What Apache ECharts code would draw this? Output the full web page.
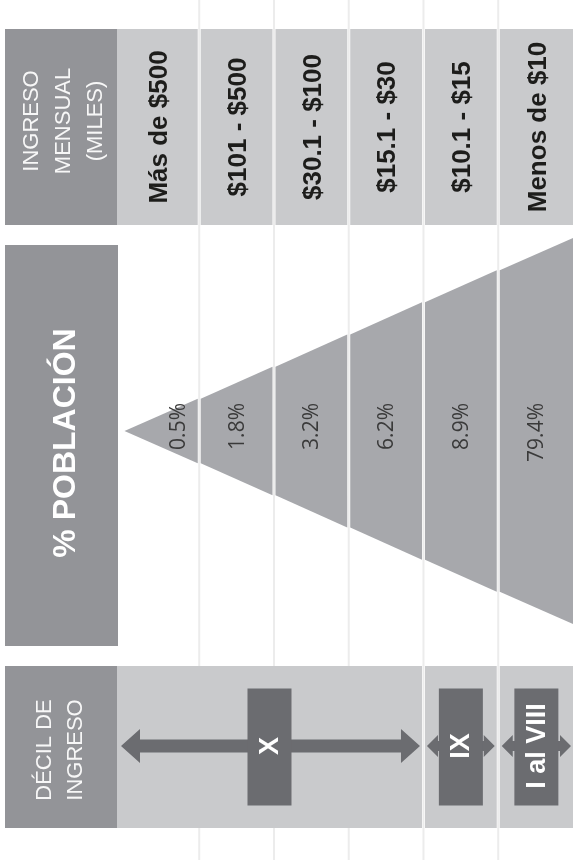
<!DOCTYPE html>
<html>
<head>
<meta charset="utf-8">
<script src="https://cdn.jsdelivr.net/npm/echarts@6/dist/echarts.min.js"></script>
<style>
  html, body { margin: 0; padding: 0; background: #ffffff; }
  #chart { width: 573px; height: 860px; }
</style>
</head>
<body>
<div id="chart"></div>
<script>
// ---- data ----
const incomeRanges = ['Más de $500', '$101 - $500', '$30.1 - $100', '$15.1 - $30', '$10.1 - $15', 'Menos de $10'];
const populationPct = [0.5, 1.8, 3.2, 6.2, 8.9, 79.4];
const decileLabels = ['X', 'IX', 'I al VIII'];
const decileSpans = [4, 1, 1]; // number of income columns each decile group covers
const headerTitles = ['INGRESO\nMENSUAL\n(MILES)', '% POBLACIÓN', 'DÉCIL DE\nINGRESO'];

// ---- styling ----
const C_HEADER = '#939498';
const C_LIGHT = '#c9cacc';
const C_TRI = '#a7a8ac';
const C_DARK = '#6b6c70';
const C_SEP = '#ececec';
const FONT = '"Liberation Sans", Arial, Helvetica, sans-serif';
const GAP = 1.5;
const N = incomeRanges.length;

const chart = echarts.init(document.getElementById('chart'), null, { renderer: 'canvas' });

function colEdges(i, cs, api) {
  const left = i === 0 ? cs.x : api.coord([i, 0])[0] + GAP;
  const right = i === N - 1 ? cs.x + cs.width : api.coord([i + 1, 0])[0] - GAP;
  return [left, right];
}

function renderSeparator(params, api) {
  const x = api.coord([api.value(0), 0])[0];
  const cs = params.coordSys;
  return {
    type: 'line',
    shape: { x1: x, y1: cs.y, x2: x, y2: cs.y + cs.height },
    style: { stroke: C_SEP, lineWidth: 2 }
  };
}

function renderIncome(params, api) {
  const i = api.value(0);
  const cs = params.coordSys;
  const [left, right] = colEdges(i, cs, api);
  const top = api.coord([0, 1])[1];
  const bottom = api.coord([0, 0])[1];
  const cx = (left + right) / 2 + 2;
  const cy = (top + bottom) / 2;
  return {
    type: 'group',
    children: [
      { type: 'rect', shape: { x: left, y: top, width: right - left, height: bottom - top }, style: { fill: C_LIGHT } },
      {
        type: 'text', x: cx, y: cy, rotation: Math.PI / 2,
        style: { text: incomeRanges[params.dataIndex], fill: '#1d1d1b', font: 'bold 26px ' + FONT, align: 'center', verticalAlign: 'middle' }
      }
    ]
  };
}

function renderStrip(params, api) {
  const i = api.value(0);
  const v = api.value(1);
  const a = api.coord([i, i / N]);
  const b = api.coord([i + 1, (i + 1) / N]);
  const c = api.coord([i + 1, -(i + 1) / N]);
  const d = api.coord([i, -i / N]);
  const l = i === 0 ? a[0] : a[0] + GAP;
  const r = i === N - 1 ? b[0] : b[0] - GAP;
  const centre = api.coord([i + (i === 0 ? 0.72 : 0.5), 0]);
  return {
    type: 'group',
    children: [
      {
        type: 'polygon',
        shape: { points: [[l, a[1]], [r, b[1]], [r, c[1]], [l, d[1]]] },
        style: { fill: C_TRI }
      },
      {
        type: 'text', x: centre[0] + 1, y: centre[1] - 28, rotation: Math.PI / 2,
        style: { text: v.toFixed(1) + '%', fill: '#3a3a3a', font: '21px "Open Sans", ' + FONT, align: 'right', verticalAlign: 'middle' }
      }
    ]
  };
}

function arrowPoints(x0, x1, cy, hl, hh, st) {
  return [
    [x0, cy], [x0 + hl, cy - hh], [x0 + hl, cy - st], [x1 - hl, cy - st], [x1 - hl, cy - hh],
    [x1, cy], [x1 - hl, cy + hh], [x1 - hl, cy + st], [x0 + hl, cy + st], [x0 + hl, cy + hh]
  ];
}

function renderDecile(params, api) {
  const s = api.value(0);
  const e = api.value(1);
  const cs = params.coordSys;
  const left = s === 0 ? cs.x : api.coord([s, 0])[0] + GAP;
  const right = e === N ? cs.x + cs.width : api.coord([e, 0])[0] - GAP;
  const top = api.coord([0, 1])[1];
  const bottom = api.coord([0, 0])[1];
  const cx = (left + right) / 2;
  const cy = (top + bottom) / 2 - 1;
  const big = (e - s) > 1;
  const pts = big ? arrowPoints(left + 4, right - 2, cy, 19, 17, 6.5) : arrowPoints(left + 2, right - 2, cy, 11, 11, 5);
  const bw = 44, bh = bottom - top - 45;
  return {
    type: 'group',
    children: [
      { type: 'rect', shape: { x: left, y: top, width: right - left, height: bottom - top }, style: { fill: C_LIGHT } },
      { type: 'polygon', shape: { points: pts }, style: { fill: C_DARK } },
      { type: 'rect', shape: { x: cx - bw / 2, y: cy + 1 - bh / 2, width: bw, height: bh }, style: { fill: C_DARK } },
      {
        type: 'text', x: cx + 1, y: cy, rotation: Math.PI / 2,
        style: { text: decileLabels[params.dataIndex], fill: '#ffffff', font: 'bold 27px ' + FONT, align: 'center', verticalAlign: 'middle' }
      }
    ]
  };
}

// cumulative spans -> [start, end] in column units
const decileData = [];
let acc = 0;
decileLabels.forEach((name, k) => {
  decileData.push({ name, value: [acc, acc + decileSpans[k]] });
  acc += decileSpans[k];
});

const grids = [
  { left: 117, right: 0, top: 0, bottom: 0 },      // separators
  { left: 117, right: 0, top: 29, height: 196 },   // income
  { left: 117, right: 0, top: 238, height: 386 },  // population triangle
  { left: 117, right: 0, top: 666, height: 162 }   // deciles
];
const yRanges = [[0, 1], [0, 1], [-1, 1], [0, 1]];

const option = {
  animation: false,
  backgroundColor: '#ffffff',
  grid: grids,
  xAxis: grids.map((g, k) => ({ type: 'value', gridIndex: k, min: -0.1, max: N, show: false })),
  yAxis: grids.map((g, k) => ({ type: 'value', gridIndex: k, min: yRanges[k][0], max: yRanges[k][1], show: false })),
  graphic: [
    { type: 'rect', shape: { x: 5, y: 29, width: 112, height: 196 }, style: { fill: C_HEADER }, z: 10 },
    {
      type: 'text', x: 64, y: 121, rotation: Math.PI / 2, z: 11,
      style: { text: headerTitles[0], fill: '#f7f7f7', font: '22px ' + FONT, lineHeight: 32, align: 'center', verticalAlign: 'middle' }
    },
    { type: 'rect', shape: { x: 5, y: 245, width: 113, height: 401 }, style: { fill: C_HEADER }, z: 10 },
    {
      type: 'text', x: 66, y: 443, rotation: Math.PI / 2, z: 11,
      style: { text: headerTitles[1], fill: '#ffffff', font: 'bold 32px ' + FONT, align: 'center', verticalAlign: 'middle' }
    },
    { type: 'rect', shape: { x: 5, y: 666, width: 112, height: 162 }, style: { fill: C_HEADER }, z: 10 },
    {
      type: 'text', x: 60, y: 750, rotation: Math.PI / 2, z: 11,
      style: { text: headerTitles[2], fill: '#f7f7f7', font: '22px ' + FONT, lineHeight: 31, align: 'center', verticalAlign: 'middle' }
    }
  ],
  series: [
    {
      type: 'custom', xAxisIndex: 0, yAxisIndex: 0, z: 1, silent: true,
      data: [1, 2, 3, 4, 5].map(k => [k, 0]),
      renderItem: renderSeparator
    },
    {
      type: 'custom', xAxisIndex: 1, yAxisIndex: 1, z: 2,
      data: incomeRanges.map((name, i) => ({ name, value: [i, 1] })),
      renderItem: renderIncome
    },
    {
      type: 'custom', xAxisIndex: 2, yAxisIndex: 2, z: 2,
      data: populationPct.map((v, i) => ({ name: incomeRanges[i], value: [i, v] })),
      renderItem: renderStrip
    },
    {
      type: 'custom', xAxisIndex: 3, yAxisIndex: 3, z: 2,
      data: decileData,
      renderItem: renderDecile
    }
  ]
};
chart.setOption(option);
</script>
</body>
</html>
